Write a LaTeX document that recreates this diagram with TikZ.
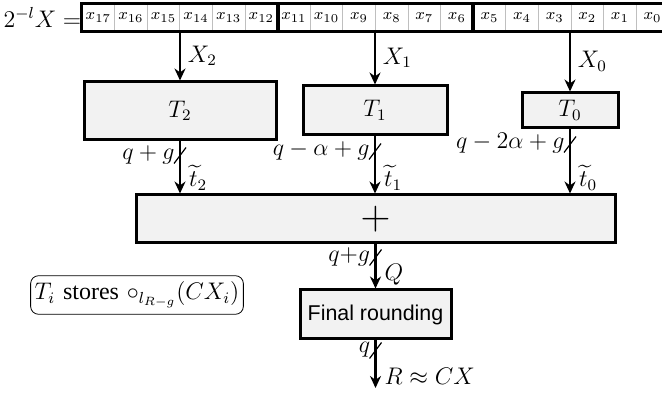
\documentclass[tikz,border=0pt]{standalone}
\usepackage{amsmath, amssymb}
\usepackage{fontspec}
\setsansfont{Liberation Sans}
\newfontfamily\timesfont{Liberation Serif}
\usetikzlibrary{arrows.meta, calc}
\definecolor{boxGray}{RGB}{242, 242, 242}

\begin{document}
\begin{tikzpicture}[x=0.5pt, y=-0.5pt, font=\large,
    cell/.style={draw=black!25, thin, minimum width=16.3pt, minimum height=13.5pt, inner sep=0pt, font=\footnotesize},
    table/.style={draw, fill=boxGray, line width=1.5pt, inner sep=0pt},
    arr/.style={-{Stealth[length=6pt, width=5.5pt]}, line width=1.2pt},
    tip label/.style={anchor=south west, inner sep=1pt, xshift=3pt},
    slash/.style={line width=0.6pt},
    note/.style={draw, rounded corners=4pt, thin, inner xsep=2pt, inner ysep=3pt, font=\large}]
  \useasboundingbox (0,0) rectangle (662,394);
  % input register, x17 on the left
  \foreach \i [count=\k from 0] in {17,16,...,0}
    \node[cell] (x\i) at ({82+32.6*(\k+0.5)},17.5) {$x_{\i}$};
  \foreach \a/\b in {17/12, 11/6, 5/0}
    \draw[line width=1.5pt] (x\a.north west) rectangle (x\b.south east);
  \node[anchor=east, inner sep=0pt] (lhs) at (x17.west) {$2^{-l}X =$};
  % tables
  \node[table, minimum width=96pt, minimum height=29pt] (T2) at (180,111) {$T_2$};
  \node[table, minimum width=72pt, minimum height=24.5pt] (T1) at (375,110.5) {$T_1$};
  \node[table, minimum width=48pt, minimum height=17.5pt] (T0) at (570,110.5) {$T_0$};
  \node[table, minimum width=239.5pt, minimum height=24pt, font=\fontsize{21}{24}\selectfont] (add) at (375.5,219) {$+$};
  \node[table, minimum width=75.5pt, minimum height=24.5pt, font=\sffamily\fontsize{10.7}{13}\selectfont] (fr) at (375.5,314.5) {Final rounding};
  \node[note] (info) at (137,295) {$T_i$ {\timesfont stores} $\circ_{l_{R-g}}(CX_i)$};
  % inputs of the tables
  \draw[arr] (T2.north |- x17.south) -- node[right] {$X_2$} (T2.north);
  \draw[arr] (T1.north |- x17.south) -- node[right] {$X_1$} (T1.north);
  \draw[arr] (T0.north |- x17.south) -- node[right] {$X_0$} (T0.north);
  % outputs
  \draw[arr] (T2.south) -- (T2.south |- add.north) node[tip label] {$\widetilde{t}_2$};
  \draw[arr] (T1.south) -- (T1.south |- add.north) node[tip label] {$\widetilde{t}_1$};
  \draw[arr] (T0.south) -- (T0.south |- add.north) node[tip label] {$\widetilde{t}_0$};
  \draw[arr] (add.south) -- (fr.north) node[tip label] {$Q$};
  \coordinate (out) at (375.5,388);
  \draw[arr] (fr.south) -- (out) node[tip label] {$R \approx CX$};
  % bus widths
  \coordinate (s2) at ($(T2.south)+(0,14)$);
  \coordinate (s1) at ($(T1.south)+(0,15)$);
  \coordinate (s0) at ($(T0.south)+(0,15)$);
  \coordinate (sa) at ($(add.south)+(0,13)$);
  \coordinate (sf) at ($(fr.south)+(0,10)$);
  \foreach \c/\w in {s2/{$q+g$}, s1/{$q-\alpha+g$}, s0/{$q-2\alpha+g$}, sa/{$q{+}g$}, sf/{$q$}} {
    \draw[slash] ($(\c)+(-6,8)$) -- ($(\c)+(6,-8)$);
    \node[anchor=east, inner sep=1pt] at ($(\c)+(-3,-1)$) {\w};
  }
\end{tikzpicture}
\end{document}
